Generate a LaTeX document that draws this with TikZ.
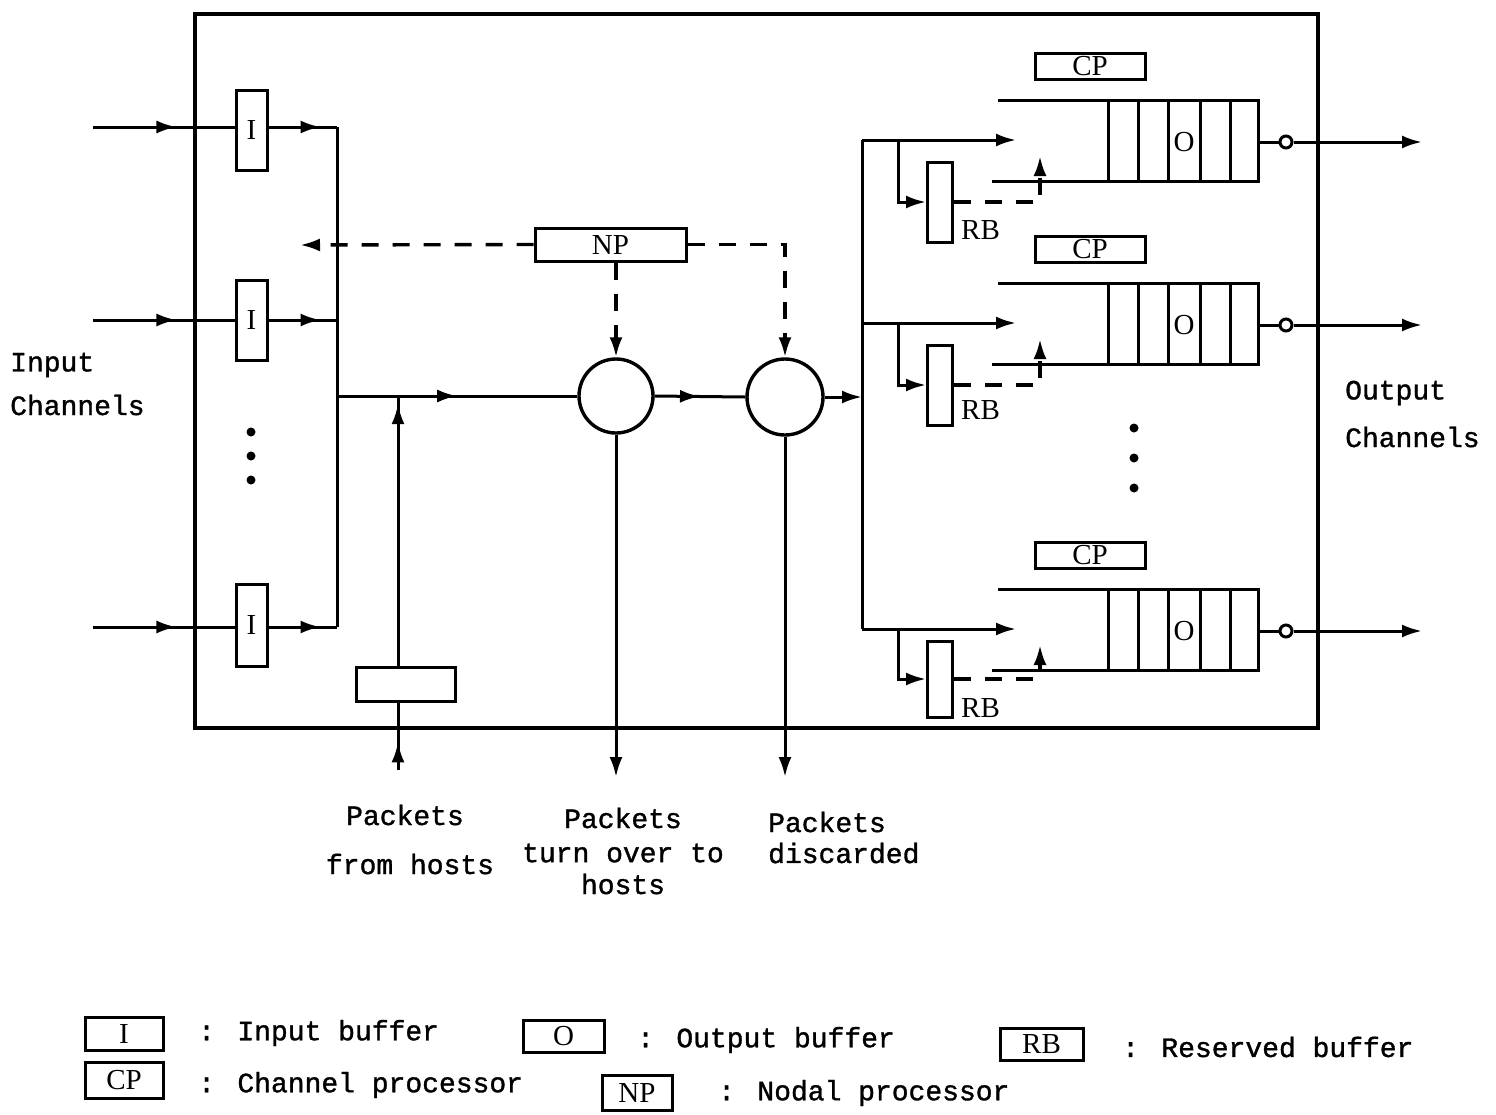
\documentclass[tikz,border=0pt]{standalone}
\usepackage{fontspec}
\setmainfont{Liberation Serif}
\newfontfamily\tw[FakeBold=1.2]{Liberation Mono}
\usetikzlibrary{arrows.meta,decorations.markings}
\begin{document}
\begin{tikzpicture}[x=1pt,y=-1pt,
  ln/.style={line width=3pt, line join=miter},
  dsh/.style={line width=3.4pt, dash pattern=on 17pt off 14pt},
  box/.style={draw, line width=3pt, inner sep=0pt, font=\fontsize{29}{29}\selectfont},
  tipL/.style={-{Latex[length=20pt,width=13pt]}},
  marr/.style={postaction={decorate},decoration={markings,mark=at position #1 with {\arrow{Latex[length=20pt,width=13pt]}}}},
  lbl/.style={font=\tw\fontsize{28}{28}\selectfont, inner sep=0pt},
  sl/.style={font=\fontsize{29}{29}\selectfont, inner sep=0pt},
]
\useasboundingbox[fill=white] (0,0) rectangle (1496,1114);

% outer frame
\draw[line width=3.2pt] (195,14) rectangle (1318,728);

% input buffers
\node[box, minimum width=31, minimum height=80] (I1) at (251.5,130) {I};
\node[box, minimum width=31, minimum height=80] (I2) at (251.5,320) {I};
\node[box, minimum width=31, minimum height=82] (I3) at (251.5,625) {I};
\coordinate (in1) at (93,127);
\coordinate (in2) at (93,320);
\coordinate (in3) at (93,627);
\coordinate (lb) at (337,0);
\draw[ln,marr=0.59] (in1) -- (in1 -| I1.west);
\draw[ln,marr=0.59] (in2) -- (in2 -| I2.west);
\draw[ln,marr=0.59] (in3) -- (in3 -| I3.west);
\draw[ln,marr=0.76] (in1 -| I1.east) -- (in1 -| lb);
\draw[ln,marr=0.76] (in2 -| I2.east) -- (in2 -| lb);
\draw[ln,marr=0.76] (in3 -| I3.east) -- (in3 -| lb);
\draw[ln] (in1 -| lb) -- (in3 -| lb);

% dots
\fill (251,432) circle (4.5);
\fill (251,456) circle (4.5);
\fill (251,480) circle (4.5);
\fill (1134,428) circle (4.5);
\fill (1134,458) circle (4.5);
\fill (1134,488) circle (4.5);

% circles
\node[circle, draw, line width=3.4pt, minimum size=74pt, inner sep=0pt] (C1) at (616,396) {};
\node[circle, draw, line width=3.4pt, minimum size=76pt, inner sep=0pt] (C2) at (785,397) {};
\coordinate (m0) at (337,396);
\draw[ln,marr=0.5] (m0) -- (C1.west);
\draw[ln,marr=0.5] (C1.east) -- (C2.west);
\coordinate (rb) at (862,0);
\draw[ln,tipL] (C2.east) -- (C2.east -| rb);
\coordinate (dy) at (0,777);
\draw[ln,tipL] (C1.south) -- (C1.south |- dy);
\draw[ln,tipL] (C2.south) -- (C2.south |- dy);

% host buffer
\node[box, minimum width=99, minimum height=34] (H) at (405.5,684) {};
\coordinate (hx) at (398,0);
\coordinate (hin) at (398,770);
\draw[ln,marr=0.97] (hx |- H.north) -- (hx |- m0);
\draw[ln,marr=0.41] (hin) -- (hx |- H.south);

% nodal processor
\node[box, minimum width=151, minimum height=33] (NP) at (610.5,244.5) {NP};
\coordinate (npL) at (300,245);
\draw[dsh,tipL] (NP.west) -- (npL);
\draw[dsh,tipL] (NP.east) -| (C2.north);
\draw[dsh,tipL] (C1.north |- NP.south) -- (C1.north);

% right bus
\draw[ln] (862,140) -- (862,629);

% output groups
\foreach \B/\n/\R/\h/\L in {140/1/202/80/230, 323/2/385/80/410, 629/3/679/76/708}{
  \node[box, minimum width=110, minimum height=26] (CP\n) at (1090,\B-74) {CP};
  \draw[ln] (998,\B-40) -- (1258,\B-40) -- (1258,\B+41) -- (992,\B+41);
  \foreach \x in {1108,1138,1168,1200,1230}{\draw[ln] (\x,\B-40) -- (\x,\B+41);}
  \node[sl] (O\n) at (1184,\B+2) {O};
  \coordinate (br\n) at (1016,\B);
  \draw[ln,tipL] (862,\B) -- (br\n);
  \node[box, minimum width=25, minimum height=\h] (RB\n) at (940,\R) {};
  \node[sl, anchor=west] (RBl\n) at (961,\L) {RB};
  \draw[ln,tipL] (898,\B) |- (RB\n.west);
  \coordinate (rt\n) at (1040,\B+16);
  \draw[dsh,tipL] (RB\n.east) -| (rt\n);
  \node[circle, draw, line width=3pt, minimum size=12pt, inner sep=0pt] (oc\n) at (1286,\B+2) {};
  \draw[ln] (1258,\B+2) -- (oc\n.west);
  \coordinate (out\n) at (1422,\B+2);
  \draw[ln,tipL] (oc\n.east) -- (out\n);
}

% labels
\node[lbl, anchor=west] (tin1) at (10,365) {Input};
\node[lbl, anchor=west] (tin2) at (10,405) {Channels};
\node[lbl, anchor=west] (tout1) at (1345,393) {Output};
\node[lbl, anchor=west] (tout2) at (1345,437) {Channels};
\node[lbl] (th1) at (405,815) {Packets};
\node[lbl] (th2) at (410,864) {from hosts};
\node[lbl] (tt1) at (623,818) {Packets};
\node[lbl] (tt2) at (623,853) {turn over to};
\node[lbl] (tt3) at (623,884) {hosts};
\node[lbl, anchor=west] (td1) at (768,822) {Packets};
\node[lbl, anchor=west] (td2) at (768,853) {discarded};

% legend
\node[box, minimum width=78, minimum height=33] (LI) at (124,1033.5) {I};
\node[lbl, anchor=west] (LIt) at (198,1033) {: Input buffer};
\node[box, minimum width=81, minimum height=32] (LO) at (563.5,1036) {O};
\node[lbl, anchor=west] (LOt) at (637,1040) {: Output buffer};
\node[box, minimum width=83, minimum height=32] (LR) at (1041.5,1044) {RB};
\node[lbl, anchor=west] (LRt) at (1122,1047) {: Reserved buffer};
\node[box, minimum width=78, minimum height=36] (LC) at (124,1080) {CP};
\node[lbl, anchor=west] (LCt) at (198,1085) {: Channel processor};
\node[box, minimum width=70, minimum height=35] (LN) at (637,1092.5) {NP};
\node[lbl, anchor=west] (LNt) at (718,1093) {: Nodal processor};
\end{tikzpicture}
\end{document}
